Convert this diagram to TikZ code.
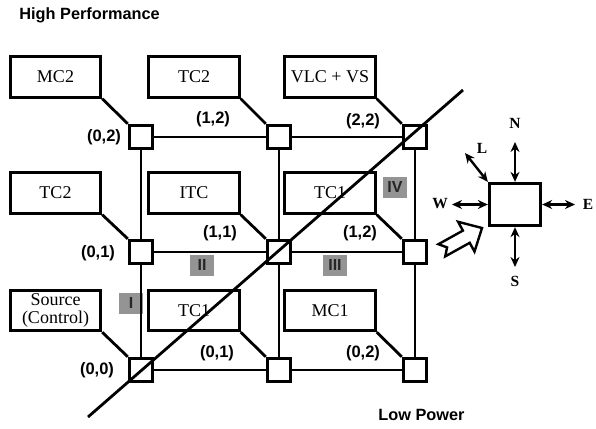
\documentclass[tikz,border=0pt]{standalone}
\usepackage{fontspec}
\setmainfont{Liberation Serif}
\setsansfont{Liberation Sans}
\usetikzlibrary{arrows.meta}
\definecolor{zonegray}{RGB}{148,148,148}
\begin{document}
\begin{tikzpicture}[x=1pt,y=-1pt, line width=2.8pt,
  router/.style={draw, minimum size=23.5pt, inner sep=0pt, fill=white},
  core/.style={draw, fill=white, minimum width=90.5pt, minimum height=40.5pt, inner sep=0pt, align=center, font=\fontsize{18}{18}\selectfont},
  title/.style={font=\sffamily\bfseries\fontsize{16.3}{18}\selectfont, inner sep=0pt},
  lbl/.style={font=\sffamily\bfseries\fontsize{16.5}{19}\selectfont, inner sep=0pt},
  zone/.style={fill=zonegray, minimum width=24pt, minimum height=21pt, inner sep=0pt, font=\sffamily\bfseries\fontsize{16}{16}\selectfont, text=black!85},
  dirlbl/.style={font=\bfseries\fontsize{15.5}{15.5}\selectfont, inner sep=0pt},
  biarrow/.style={{Stealth[length=10pt,width=9pt]}-{Stealth[length=10pt,width=9pt]}, line width=2.4pt}
]
\useasboundingbox (0,0) rectangle (596,428);

% titles
\node[title, anchor=west] (hp) at (18,15) {High Performance};
\node[title, anchor=west] (low) at (377,415) {Low Power};

% zones
\node[zone] (zI)   at (131,303) {I};
\node[zone] (zII)  at (202,265) {II};
\node[zone] (zIII) at (335,265) {III};
\node[zone] (zIV)  at (395,187) {IV};

% routers
\node[router] (r00) at (141,370) {};
\node[router] (r10) at (279,370) {};
\node[router] (r20) at (415,370) {};
\node[router] (r01) at (141,252) {};
\node[router] (r11) at (279,252) {};
\node[router] (r21) at (415,252) {};
\node[router] (r02) at (141,137) {};
\node[router] (r12) at (279,137) {};
\node[router] (r22) at (415,137) {};

% mesh links
\draw (r00) -- (r10); \draw (r10) -- (r20);
\draw (r01) -- (r11); \draw (r11) -- (r21);
\draw (r02) -- (r12); \draw (r12) -- (r22);
\draw (r00) -- (r01); \draw (r01) -- (r02);
\draw (r10) -- (r11); \draw (r11) -- (r12);
\draw (r20) -- (r21); \draw (r21) -- (r22);

% cores
\node[core] (c02) at (55.5,77) {MC2};
\node[core] (c12) at (194,77) {TC2};
\node[core] (c22) at (330,77) {VLC + VS};
\node[core] (c01) at (55.5,193) {TC2};
\node[core] (c11) at (194,193) {ITC};
\node[core] (c21) at (330,193) {TC1};
\node[core] (c00) at (55.5,310.5) {Source\\(Control)};
\node[core] (c10) at (194,310.5) {TC1};
\node[core] (c20) at (330,310.5) {MC1};

% core to router connectors
\draw (c02.south east) -- (r02.north west);
\draw (c12.south east) -- (r12.north west);
\draw (c22.south east) -- (r22.north west);
\draw (c01.south east) -- (r01.north west);
\draw (c11.south east) -- (r11.north west);
\draw (c21.south east) -- (r21.north west);
\draw (c00.south east) -- (r00.north west);
\draw (c10.south east) -- (r10.north west);
\draw (c20.south east) -- (r20.north west);

% router labels
\node[lbl] (l02) at (104,137) {(0,2)};
\node[lbl] (l12) at (213,119) {(1,2)};
\node[lbl] (l22) at (363,121) {(2,2)};
\node[lbl] (l01) at (98,253) {(0,1)};
\node[lbl] (l11) at (220,233) {(1,1)};
\node[lbl] (l21) at (360,233) {(1,2)};
\node[lbl] (l00) at (97,370) {(0,0)};
\node[lbl] (l10) at (217,353) {(0,1)};
\node[lbl] (l20) at (363,353) {(0,2)};

% diagonal
\coordinate (dA) at (88,417);
\coordinate (dB) at (463,90);
\draw (dA) -- (dB);

% router detail inset
\node[draw, minimum width=51.5pt, minimum height=42.5pt, inner sep=0pt] (sq) at (515,204.5) {};
\coordinate (nEnd) at (515,142);
\coordinate (sEnd) at (515,267);
\coordinate (wEnd) at (452,204.5);
\coordinate (eEnd) at (575,204.5);
\coordinate (lEnd) at (465,153);
\draw[biarrow] (sq.north) -- (nEnd);
\draw[biarrow] (sq.south) -- (sEnd);
\draw[biarrow] (sq.west) -- (wEnd);
\draw[biarrow] (sq.east) -- (eEnd);
\draw[biarrow] (sq.north west) -- (lEnd);
\node[dirlbl] (lN) at (515,123) {N};
\node[dirlbl] (lS) at (515,281) {S};
\node[dirlbl] (lW) at (440,204) {W};
\node[dirlbl] (lE) at (588,204) {E};
\node[dirlbl] (lL) at (482,148) {L};

% hollow arrow
\draw[line width=2.4pt, line join=miter, fill=white] (445.2,256.4) -- (469.7,242.8) -- (474.5,251.6) -- (482,228) -- (458.1,221.8) -- (462.9,230.6) -- (438.4,244.2) -- (447.1,247.4) -- cycle;
\end{tikzpicture}
\end{document}
